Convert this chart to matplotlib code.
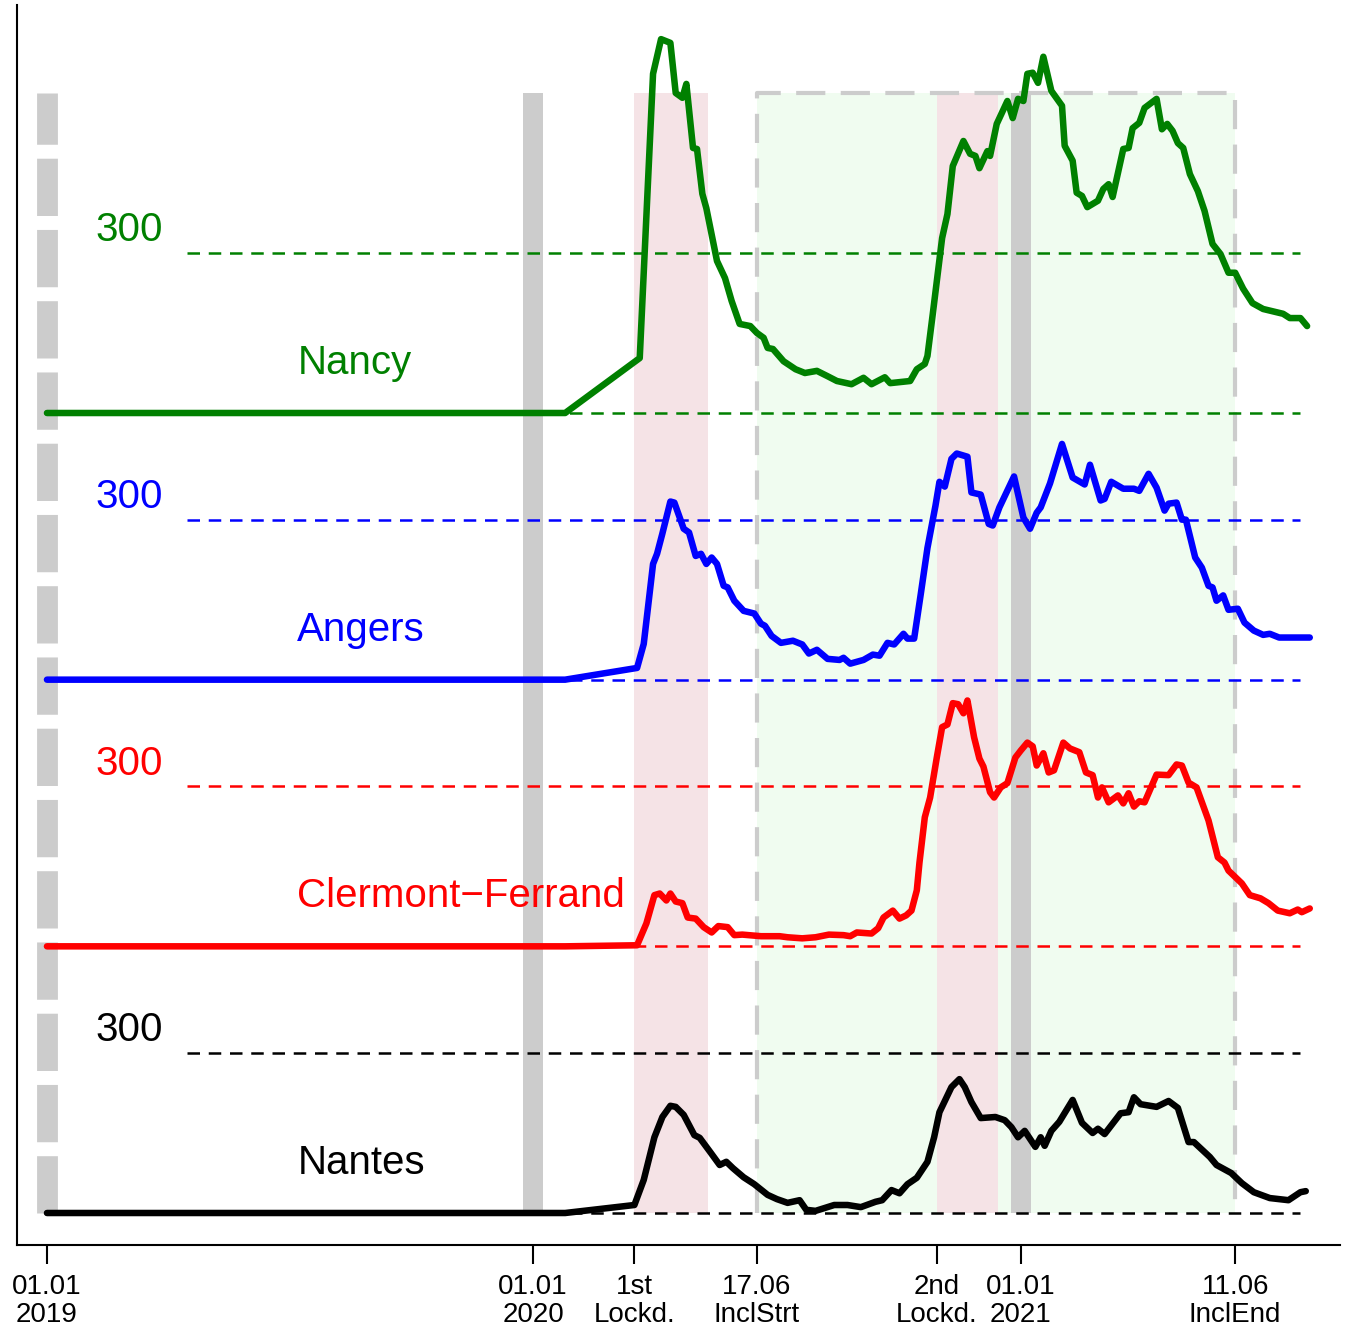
import numpy as np
import matplotlib
matplotlib.use('Agg')
from matplotlib import pyplot as plt
import matplotlib.dates as mdates

plt.rcParams['font.family'] = ['Liberation Sans', 'DejaVu Sans']

t0 = np.datetime64('2019-01-01')

# days since 01.01.2019 and values
nancy_d = [445,455,461,468,472,477,480,485,488,492,495,503,509,514,520,528,533,538,541,545,
           553,562,569,578,586,593,604,613,619,629,633,648,653,659,661,665,672,676,680,688,
           693,697,700,706,708,713,721,725,729,733,736,740,744,748,754,762,764,770,773,777,
           781,789,793,797,800,808,812,815,820,824,833,837,841,845,849,853,858,864,869,875,
           881,887,892,898,905,913,928,933,941,946]
nancy_v = [103,636,701,694,600,591,617,497,495,411,384,285,253,210,167,163,150,141,122,120,
           97,82,75,79,69,60,54,66,54,67,56,60,82,92,107,186,328,373,463,510,
           486,482,459,491,482,542,585,553,589,585,636,638,619,668,604,576,501,473,413,407,
           386,398,420,429,405,495,497,534,544,572,589,532,542,529,506,497,448,416,379,317,
           298,263,263,233,206,195,186,178,178,163]

angers_d = [443,448,455,458,462,468,471,478,482,487,491,495,499,503,508,511,516,523,531,536,
            539,544,551,560,567,572,578,586,595,598,603,613,620,625,631,636,643,646,651,656,
            661,667,670,674,679,683,691,694,701,707,710,715,726,733,738,743,746,753,762,770,
            779,783,791,794,799,808,816,820,827,833,839,842,848,852,855,862,867,872,875,878,
            883,887,894,899,906,913,918,925,932,948]
angers_v = [22,67,217,236,274,334,332,283,276,232,236,217,229,217,176,173,148,129,124,105,
            101,82,69,73,66,49,56,39,37,41,30,37,47,45,69,66,86,77,77,161,
            247,326,371,362,414,424,418,351,347,292,289,323,381,304,283,313,323,368,442,379,
            366,403,336,339,371,358,358,354,386,360,317,330,332,300,300,229,210,176,173,148,
            158,131,133,107,92,84,86,79,79,79]

clermont_d = [443,450,456,460,465,468,472,477,481,487,493,499,504,511,516,522,536,550,556,567,
              577,587,598,603,608,619,624,628,635,640,645,649,653,655,659,663,668,672,676,680,
              684,688,691,696,700,703,708,711,716,721,727,731,736,740,743,748,752,756,763,768,
              775,780,785,789,792,797,804,808,812,816,820,824,833,842,848,852,857,863,872,879,
              884,887,897,903,911,917,924,933,939,942,948]
clermont_v = [2,43,96,99,86,99,84,81,54,52,36,26,38,36,21,22,19,19,17,15,
              17,22,21,19,26,24,34,54,67,52,58,67,105,157,242,279,354,411,416,456,
              454,437,461,392,352,337,289,279,298,306,354,367,382,375,339,362,326,330,382,371,
              364,326,321,279,298,270,283,268,287,262,272,270,322,321,341,339,307,298,236,167,
              157,142,118,96,90,81,67,62,69,64,71]

nantes_d = [441,448,456,462,468,472,478,486,490,498,505,510,515,523,531,541,548,556,565,570,
            577,591,601,611,622,627,634,640,646,653,661,666,670,679,685,689,694,701,712,719,
            724,729,734,742,746,749,754,760,770,777,785,789,794,806,812,816,821,833,842,849,
            857,861,873,878,889,897,906,918,932,941,945]
nantes_v = [15,62,142,180,201,199,184,146,141,114,90,96,84,67,54,34,26,19,24,6,
            4,15,15,11,21,24,43,37,54,66,96,142,189,236,251,236,208,178,180,174,
            161,142,154,124,142,126,154,171,212,169,150,158,148,187,189,217,204,199,210,197,
            133,133,105,90,75,56,39,28,24,39,41]

flat_d = [0, 389]      # zero stretch before data start
flat_v = [0, 0]

cities = ['Nantes', 'Clermont\u2212Ferrand', 'Angers', 'Nancy']
colors = ['black', 'red', 'blue', 'green']
offsets = [0, 500, 1000, 1500]
days = [nantes_d, clermont_d, angers_d, nancy_d]
vals = [nantes_v, clermont_v, angers_v, nancy_v]

tick_dates = ['2019-01-01', '2020-01-01', '2020-03-17', '2020-06-17', '2020-10-30', '2021-01-01', '2021-06-11']
tick_labels = ['01.01\n2019', '01.01\n2020', '1st\nLockd.', '17.06\nInclStrt', '2nd\nLockd.', '01.01\n2021', '11.06\nInclEnd']
lockdowns = [('2020-03-17', '2020-05-11'), ('2020-10-30', '2020-12-15')]
incl = ('2020-06-17', '2021-06-11')
new_years = ['2020-01-01', '2021-01-01']


def dn(d):
    return mdates.date2num(np.datetime64(d))


def days2num(d):
    return mdates.date2num(t0 + np.array(d, dtype='timedelta64[D]'))


x0 = dn('2019-01-01')
top = 2100

fig = plt.figure(figsize=(13.46, 13.29), dpi=100)
ax = fig.add_axes([17/1346, 84/1329, 1323/1346, 1240/1329])

# shaded periods
ax.fill_between([dn(incl[0]), dn(incl[1])], 0, top, color='#F0FCF0', lw=0, zorder=1)
for a, b in lockdowns:
    ax.fill_between([dn(a), dn(b)], 0, top, color='#F5E3E6', lw=0, zorder=1.5)
for ny in new_years:
    ax.plot([dn(ny), dn(ny)], [0, top], color='#CCCCCC', lw=14.4, solid_capstyle='butt', zorder=2)
ax.plot([x0, x0], [0, top], color='#CCCCCC', lw=15, dashes=(2.75, 0.67), dash_capstyle='butt', zorder=2)
box_x = [dn(incl[0]), dn(incl[0]), dn(incl[1]), dn(incl[1])]
ax.plot(box_x, [0, top, top, 0], color='#CCCCCC', lw=3, dashes=(7, 3.7), zorder=2)

# reference lines and labels
ref0, ref1 = x0 + 105, x0 + 941
for city, col, off in zip(cities, colors, offsets):
    ax.plot([ref0, ref1], [off, off], color=col, lw=1.8, dashes=(5, 3.5), zorder=3)
    ax.plot([ref0, ref1], [off + 300, off + 300], color=col, lw=1.8, dashes=(5, 3.5), zorder=3)
    ax.text(x0 + 62, off + 322, '300', color=col, fontsize=29, ha='center', va='baseline')
    ax.text(x0 + 188, off + 73, city, color=col, fontsize=29, ha='left', va='baseline')

for d, v, col, off in zip(days, vals, colors, offsets):
    xs = days2num(flat_d + d)
    ys = np.array(flat_v + v) + off
    ax.plot(xs, ys, color=col, lw=4.7, solid_capstyle='round', solid_joinstyle='round', zorder=4)

ax.set_xlim(x0 - 22.5, x0 + 970.7)
ax.set_ylim(-60, 2265)
ax.set_xticks([dn(t) for t in tick_dates])
ax.set_xticklabels(tick_labels, fontsize=20, linespacing=1.1)
ax.set_yticks([])
ax.tick_params(axis='x', length=14, width=1.5, pad=7)
for s in ['top', 'right']:
    ax.spines[s].set_visible(False)
ax.spines['left'].set_linewidth(1.5)
ax.spines['bottom'].set_linewidth(1.5)

plt.savefig('out.png', dpi=100)
